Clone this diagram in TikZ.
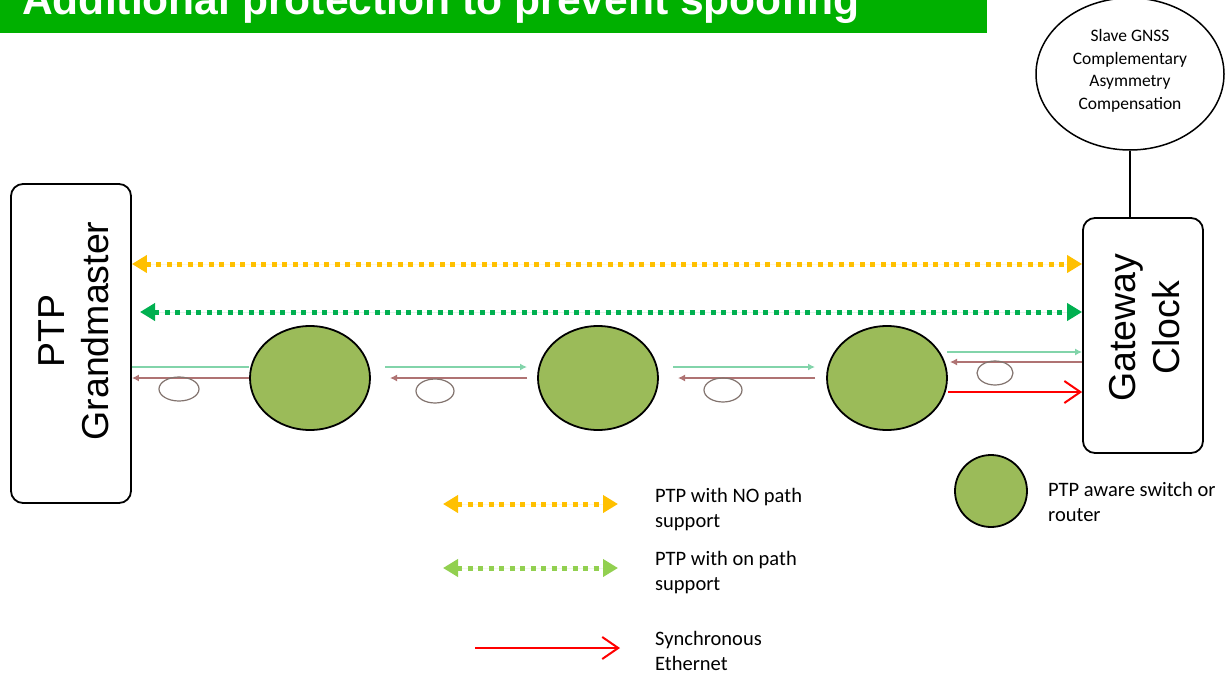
\documentclass[tikz,border=0pt]{standalone}
\usepackage{fontspec}
\setmainfont{Carlito}
\newfontfamily\arialfont{Liberation Sans}
\usetikzlibrary{arrows.meta,shapes.geometric}
\definecolor{titlegreen}{RGB}{0,176,0}
\definecolor{orangeC}{RGB}{255,192,0}
\definecolor{greenC}{RGB}{0,176,80}
\definecolor{lightgreenC}{RGB}{146,208,80}
\definecolor{switchC}{RGB}{155,187,89}
\definecolor{tealC}{RGB}{130,212,170}
\definecolor{brownC}{RGB}{175,115,115}
\definecolor{grayC}{RGB}{130,115,110}
\tikzset{
  rbox/.style={draw=black, line width=1.8pt, rounded corners=12pt, fill=white},
  boxtext/.style={rotate=90, align=center, font=\arialfont\fontsize{37.5}{44}\selectfont, inner sep=0pt},
  dotline/.style={line width=5pt, dash pattern=on 5pt off 5.5pt},
  bigtip/.style={{Triangle[length=15pt,width=17pt]}-{Triangle[length=15pt,width=17pt]}},
  switchnode/.style={ellipse, draw=black, line width=1.8pt, fill=switchC, minimum width=120pt, minimum height=104pt, inner sep=0pt},
  legtext/.style={anchor=base west, align=left, font=\fontsize{20.5}{25}\selectfont, inner sep=0pt},
  tealarrow/.style={draw=tealC, line width=2pt},
  brownarrow/.style={draw=brownC, line width=2pt},
  loopell/.style={draw=grayC, line width=1.2pt},
  sync/.style={draw=red, line width=2pt, -{Straight Barb[length=16pt,width=22pt,line width=2pt]}}
}
\begin{document}
\begin{tikzpicture}[x=1pt,y=-1pt]
\useasboundingbox (0,0) rectangle (1227,675);
\fill[white] (0,0) rectangle (1227,675);
% title
\fill[titlegreen] (0,-10) rectangle (987,33);
\node[anchor=base west, font=\arialfont\bfseries\fontsize{42.6}{50}\selectfont, text=white, inner sep=0pt] (title) at (22,14) {Additional protection to prevent spoofing};

% boxes
\node[rbox, minimum width=120pt, minimum height=319pt] (gm) at (71,343.5) {};
\node[boxtext] (gmtext) at (74,331) {PTP\\Grandmaster};
\node[rbox, minimum width=120pt, minimum height=235pt] (gw) at (1143,335.5) {};
\node[boxtext] (gwtext) at (1145,328) {Gateway\\Clock};

% GNSS ellipse
\node[ellipse, draw=black, line width=1.5pt, minimum width=188pt, minimum height=152pt, inner sep=0pt] (gnss) at (1130,74) {};
\node[align=center, font=\fontsize{17.5}{22.5}\selectfont, inner sep=0pt] (gnsstext) at (1130,71) {Slave GNSS\\Complementary\\Asymmetry\\Compensation};
\draw[line width=1.5pt] (gnss.south) -- (gnss.south |- gw.north);

% main dotted arrows
\coordinate (oy) at (0,264);
\coordinate (gy) at (0,312);
\coordinate (gl) at (140,312);
\draw[dotline, draw=orangeC, fill=orangeC, bigtip] (gm.east |- oy) -- (gw.west |- oy);
\draw[dotline, draw=greenC, fill=greenC, bigtip] (gl) -- (gw.west |- gy);

% switches
\node[switchnode] (s1) at (310,378) {};
\node[switchnode] (s2) at (598,378) {};
\node[switchnode] (s3) at (887,378) {};

% segment graphics
\draw[tealarrow] (gm.east |- 0,367) -- (s1.west |- 0,367);
\draw[brownarrow, -{Latex[length=7pt,width=7pt]}] (s1.west |- 0,378) -- (gm.east |- 0,378);
\draw[loopell] (179,389) ellipse [x radius=20pt, y radius=12pt];

\draw[tealarrow, -{Latex[length=7pt,width=7pt]}] (385,367) -- (527,367);
\draw[brownarrow, -{Latex[length=7pt,width=7pt]}] (527,378) -- (390,378);
\draw[loopell] (435,391) ellipse [x radius=19pt, y radius=12pt];

\draw[tealarrow, -{Latex[length=7pt,width=7pt]}] (673,367) -- (815,367);
\draw[brownarrow, -{Latex[length=7pt,width=7pt]}] (815,378) -- (678,378);
\draw[loopell] (723,390) ellipse [x radius=19pt, y radius=12pt];

\draw[tealarrow, -{Latex[length=7pt,width=7pt]}] (947,352) -- (gw.west |- 0,352);
\draw[brownarrow, -{Latex[length=7pt,width=7pt]}] (gw.west |- 0,362) -- (950,362);
\draw[loopell] (995,373) ellipse [x radius=18pt, y radius=12pt];
\draw[sync] (s3.east |- 0,392) -- (gw.west |- 0,392);

% legend
\coordinate (l1a) at (443,504);
\coordinate (l1b) at (618,504);
\draw[dotline, draw=orangeC, fill=orangeC, bigtip] (l1a) -- (l1b);
\node[legtext] (lt1) at (655,527) {PTP with NO path\\support};

\coordinate (l2a) at (443,568);
\coordinate (l2b) at (618,568);
\draw[dotline, draw=lightgreenC, fill=lightgreenC, bigtip] (l2a) -- (l2b);
\node[legtext] (lt2) at (655,590) {PTP with on path\\support};

\coordinate (l3a) at (475,648);
\coordinate (l3b) at (620,648);
\draw[sync] (l3a) -- (l3b);
\node[legtext] (lt3) at (655,670) {Synchronous\\Ethernet};

\node[circle, draw=black, line width=1.8pt, fill=switchC, minimum size=72pt, inner sep=0pt] (ls) at (991,491) {};
\node[legtext] (lt4) at (1048,521) {PTP aware switch or\\router};
\end{tikzpicture}
\end{document}
